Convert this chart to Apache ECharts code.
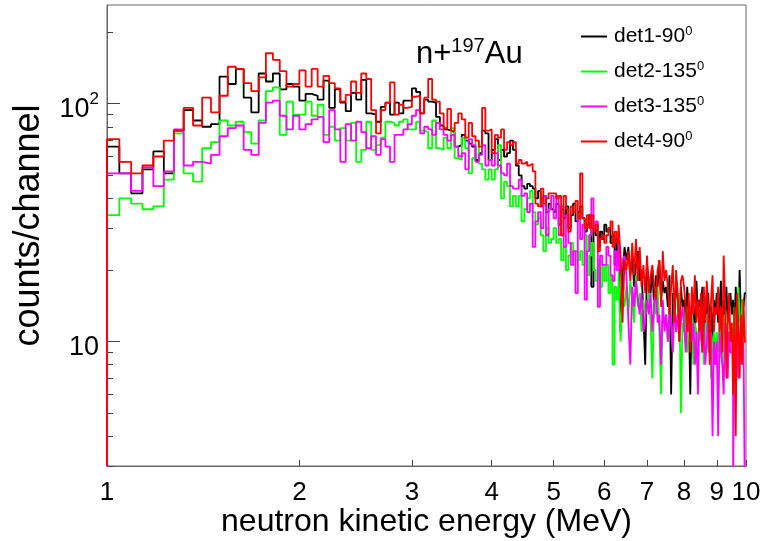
<!DOCTYPE html>
<html>
<head>
<meta charset="utf-8">
<script src="https://cdn.jsdelivr.net/npm/echarts@6/dist/echarts.min.js"></script>
<style>
  html, body { margin: 0; padding: 0; background: #fff; }
  #chart { width: 764px; height: 541px; }
</style>
</head>
<body>
<div id="chart"></div>
<script>
// histogram binning: 198 bins of 1/22 MeV from 1 to 10 MeV
var binStart = 1;
var binWidth = 1 / 22;

var seriesNames = ['det1-90', 'det2-135', 'det3-135', 'det4-90'];
var seriesColors = ['#000000', '#00ff00', '#ff00ff', '#ff0000'];

var xTicks = [1, 2, 3, 4, 5, 6, 7, 8, 9, 10];
var yMajorTicks = [10, 100];
var yMinorTicks = [3, 4, 5, 6, 7, 8, 9, 20, 30, 40, 50, 60, 70, 80, 90, 200];
var yMin = 3;
var yMax = 260;

// counts per bin, each row = 0.5 MeV
var det1 = [
    66, 51, 42, 53, 63, 51, 77, 94, 85, 80, 82,
    130, 121, 140, 106, 92, 134, 124, 134, 115, 121, 118,
    103, 110, 108, 104, 125, 96, 115, 101, 93, 111, 104,
    126, 91, 90, 84, 97, 101, 90, 101, 91, 103, 103,
    116, 112, 91, 104, 102, 101, 88, 81, 78, 77, 76,
    66, 67, 74, 70, 68, 66, 58, 62, 77, 75, 58,
    64, 71, 58, 64, 60, 62, 70, 64, 55, 50, 45,
    44, 46, 45, 44, 40, 43, 37, 41, 35, 38, 36,
    35, 38, 31, 36, 33, 37, 30, 34, 38, 32, 35,
    37, 33, 29, 31, 34, 17, 30, 28, 25, 29, 27,
    31, 29, 30, 26, 28, 21, 27, 24, 11, 19, 25,
    22, 25, 19, 23, 17, 21, 24, 18, 20, 13, 8,
    21, 18, 16, 20, 14, 19, 17, 22, 15, 18, 16,
    17, 14, 19, 6, 16, 13, 18, 15, 12, 17, 14,
    15, 12, 17, 13, 6, 16, 14, 11, 18, 13, 15,
    14, 17, 11, 15, 13, 16, 12, 14, 10, 15, 13,
    16, 12, 14, 18, 11, 15, 13, 17, 12, 14, 16,
    13, 15, 11, 17, 14, 12, 20, 13, 15, 14, 16
];
var det2 = [
    34, 40, 38, 36, 37, 48, 75, 51, 47, 65, 69,
    85, 81, 84, 76, 68, 85, 113, 117, 74, 102, 90,
    90, 102, 89, 99, 74, 80, 70, 79, 70, 83, 57,
    64, 84, 64, 67, 72, 84, 83, 81, 84, 86, 78,
    78, 84, 77, 76, 65, 85, 65, 64, 72, 65, 79,
    59, 58, 72, 65, 51, 59, 70, 56, 53, 48, 53,
    48, 53, 67, 40, 47, 45, 37, 41, 37, 41, 32,
    36, 40, 43, 35, 31, 33, 28, 24, 30, 26, 27,
    30, 26, 27, 22, 25, 20, 23, 26, 21, 24, 22,
    24, 21, 28, 19, 23, 26, 20, 18, 22, 17, 21,
    18, 21, 16, 19, 8, 17, 15, 20, 10, 16, 14,
    17, 13, 18, 15, 12, 19, 14, 16, 11, 15, 13,
    14, 16, 12, 7, 15, 13, 17, 11, 6, 14, 12,
    13, 10, 15, 12, 9, 14, 11, 13, 16, 5, 12,
    11, 14, 9, 12, 10, 13, 8, 12, 11, 9, 13,
    10, 12, 8, 11, 13, 9, 12, 7, 10, 11, 9,
    11, 9, 12, 10, 8, 13, 10, 12, 9, 11, 10,
    12, 10, 14, 9, 11, 17, 13, 10, 15, 12, 11
];
var det3 = [
    51, 51, 43, 54, 45, 52, 78, 55, 57, 56, 61,
    73, 79, 81, 64, 61, 83, 101, 103, 89, 78, 89,
    78, 82, 86, 88, 69, 94, 78, 57, 82, 70, 84,
    76, 65, 73, 61, 71, 66, 57, 74, 74, 78, 82,
    89, 94, 75, 80, 78, 74, 83, 78, 74, 70, 74,
    66, 60, 62, 53, 71, 67, 57, 61, 67, 55, 58,
    55, 62, 55, 51, 50, 56, 45, 44, 44, 48, 41,
    42, 35, 38, 25, 32, 35, 30, 41, 28, 36, 41,
    33, 41, 28, 37, 25, 34, 26, 21, 24, 16, 34,
    27, 31, 15, 24, 28, 40, 30, 32, 14, 23, 21,
    21, 25, 23, 19, 18, 24, 20, 26, 19, 22, 23,
    19, 12, 8, 17, 14, 18, 15, 13, 16, 11, 12,
    15, 13, 16, 11, 14, 17, 12, 13, 8, 15, 11,
    13, 10, 14, 12, 9, 15, 11, 13, 10, 12, 14,
    12, 9, 13, 11, 14, 10, 12, 8, 11, 6, 13,
    11, 9, 12, 8, 10, 13, 9, 11, 4, 10, 8,
    10, 4, 11, 9, 8, 6, 12, 10, 7, 11, 9,
    9, 2.5, 10, 8, 11, 7, 9, 12, 8, 10, 2.5
];
var det4 = [
    71, 57, 51, 55, 60, 70, 77, 96, 81, 106, 92,
    108, 143, 140, 122, 113, 129, 163, 153, 137, 118, 121,
    138, 118, 140, 118, 131, 122, 116, 102, 109, 124, 111,
    134, 127, 94, 75, 94, 101, 123, 90, 99, 96, 97,
    107, 108, 91, 106, 127, 104, 102, 91, 79, 95, 77,
    83, 91, 86, 72, 83, 73, 70, 66, 96, 77, 78,
    62, 74, 72, 78, 64, 69, 67, 69, 56, 58, 56,
    57, 55, 56, 52, 38, 37, 44, 38, 40, 42, 42,
    42, 40, 41, 28, 41, 36, 29, 37, 35, 39, 33,
    51, 33, 30, 34, 30, 34, 29, 31, 24, 27, 28,
    26, 28, 30, 32, 25, 29, 26, 31, 23, 12, 22,
    20, 24, 18, 26, 19, 27, 18, 25, 17, 21, 16,
    23, 16, 19, 21, 17, 15, 20, 22, 14, 24, 18,
    20, 17, 13, 17, 21, 12, 20, 16, 10, 18, 19,
    17, 14, 11, 16, 9, 17, 13, 19, 12, 15, 11,
    16, 9, 17, 12, 18, 14, 8, 15, 19, 11, 14,
    13, 17, 11, 14, 9, 23, 15, 7, 12, 16, 10,
    12, 6, 14, 4, 16, 11, 7, 13, 8, 15, 10
];
var allCounts = [det1, det2, det3, det4];

var FONT = 'Liberation Sans';

// histogram outline: point at every lower bin edge, step drawn at the end
function histPoints(counts) {
    var pts = [[binStart, yMin]];
    for (var i = 0; i < counts.length; i++) {
        pts.push([binStart + i * binWidth, counts[i]]);
    }
    pts.push([binStart + counts.length * binWidth, counts[counts.length - 1]]);
    return pts;
}

var chart = echarts.init(document.getElementById('chart'), null, { renderer: 'canvas' });

var series = [];
for (var s = 0; s < allCounts.length; s++) {
    series.push({
        name: seriesNames[s],
        type: 'line',
        step: 'end',
        symbol: 'none',
        clip: true,
        data: histPoints(allCounts[s]),
        lineStyle: { color: seriesColors[s], width: 1.8 },
        itemStyle: { color: seriesColors[s] },
        animation: false
    });
}

var option = {
    animation: false,
    textStyle: { fontFamily: FONT },
    title: {
        text: '{b|n+}{s|197}{b|Au}',
        left: 411,
        top: 31,
        textStyle: {
            fontWeight: 'normal',
            rich: {
                b: { fontFamily: FONT, fontSize: 31, fontWeight: 'normal', color: '#000', lineHeight: 36 },
                s: { fontFamily: FONT, fontSize: 20, fontWeight: 'normal', color: '#000', verticalAlign: 'top', lineHeight: 36, padding: [0, 0, 14, 0] }
            }
        }
    },
    legend: {
        orient: 'vertical',
        left: 576,
        top: 20,
        icon: 'rect',
        itemWidth: 26,
        itemHeight: 2,
        itemGap: 12,
        data: seriesNames,
        formatter: function (name) { return '{b|' + name + '}{s|0}'; },
        textStyle: {
            padding: [0, 0, 0, 2],
            rich: {
                b: { fontFamily: FONT, fontSize: 21, color: '#000', lineHeight: 23 },
                s: { fontFamily: FONT, fontSize: 13, color: '#000', verticalAlign: 'top', lineHeight: 23, padding: [0, 0, 10, 0] }
            }
        }
    },
    grid: {
        left: 107,
        right: 18,
        top: 5,
        bottom: 75,
        containLabel: false,
        outerBoundsMode: 'none',
        show: true,
        borderColor: '#666',
        borderWidth: 1,
        backgroundColor: 'transparent'
    },
    xAxis: {
        type: 'log',
        logBase: 10,
        min: 1,
        max: 10,
        name: 'neutron kinetic energy (MeV)',
        nameLocation: 'middle',
        nameGap: 40,
        nameMoveOverlap: false,
        nameTextStyle: { fontFamily: FONT, fontSize: 32, color: '#000' },
        axisLine: { show: true, lineStyle: { color: '#666', width: 1 } },
        axisTick: { show: true, inside: true, length: 6, customValues: xTicks, lineStyle: { color: '#444' } },
        axisLabel: { show: true, customValues: xTicks, margin: 14, fontFamily: FONT, fontSize: 26, color: '#000' },
        splitLine: { show: false },
        minorTick: { show: false }
    },
    yAxis: [{
        type: 'log',
        logBase: 10,
        min: yMin,
        max: yMax,
        name: 'counts/channel',
        nameLocation: 'middle',
        nameGap: 60,
        nameMoveOverlap: false,
        nameTextStyle: { fontFamily: FONT, fontSize: 36, color: '#000', padding: [0, 0, 0, 20] },
        axisLine: { show: true, lineStyle: { color: '#666', width: 1 } },
        axisTick: { show: true, inside: true, length: 13, customValues: yMajorTicks, lineStyle: { color: '#444' } },
        axisLabel: {
            show: true,
            customValues: yMajorTicks,
            margin: 8,
            formatter: function (v) {
                return v >= 100 ? '{b|10}{s|2}' : '{b|10}';
            },
            rich: {
                b: { fontFamily: FONT, fontSize: 27, color: '#000', lineHeight: 30, padding: [12, 0, 0, 0] },
                s: { fontFamily: FONT, fontSize: 17, color: '#000', verticalAlign: 'top', lineHeight: 30, padding: [2, 0, 0, 0] }
            }
        },
        splitLine: { show: false }
    }, {
        type: 'log',
        logBase: 10,
        min: yMin,
        max: yMax,
        position: 'left',
        axisLine: { show: false },
        axisTick: { show: true, inside: true, length: 6, customValues: yMinorTicks, lineStyle: { color: '#444' } },
        axisLabel: { show: false },
        splitLine: { show: false }
    }],
    series: series
};

chart.setOption(option);

window.addEventListener('resize', function () {
    chart.resize();
});
</script>
</body>
</html>
